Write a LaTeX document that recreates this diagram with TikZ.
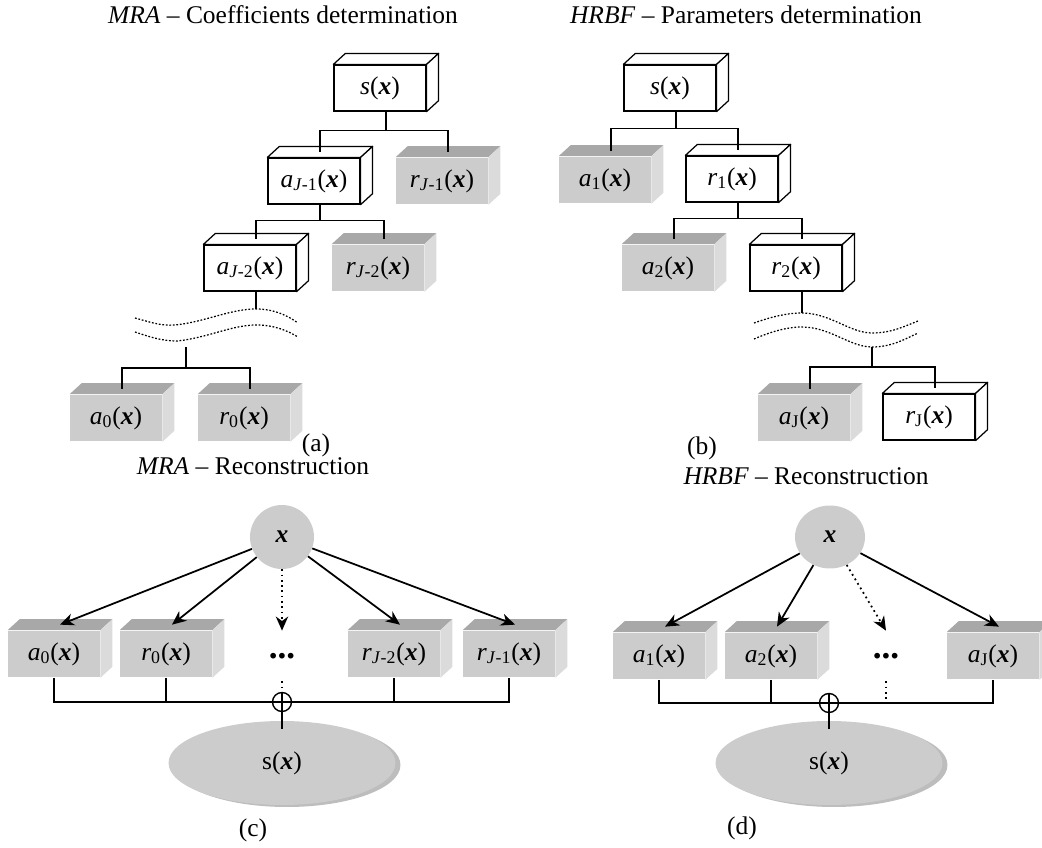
\documentclass[tikz,border=0pt]{standalone}
\usepackage{fontspec}
\setmainfont{Liberation Serif}
\usetikzlibrary{shapes.geometric,arrows.meta}
\definecolor{boxfront}{gray}{0.80}
\definecolor{boxtop}{gray}{0.66}
\definecolor{boxside}{gray}{0.86}
\definecolor{blob}{gray}{0.80}
\definecolor{blobrim}{gray}{0.74}
\newcommand{\vx}{\textbf{\textit{x}}}
\newcommand{\cube}[4]{%
  \node[#1] (#2) at (#3) {#4};
  \path[#1top] (#2.north west) -- ++(12,-11) -- ([shift={(12,-11)}]#2.north east) -- (#2.north east) -- cycle;
  \path[#1side] (#2.north east) -- ++(12,-11) -- ([shift={(12,-11)}]#2.south east) -- (#2.south east) -- cycle;
  \coordinate (#2t) at ([shift={(6,-5.5)}]#2.north);
  \coordinate (#2b) at ([shift={(6,0)}]#2.south);
}

\begin{document}
\begin{tikzpicture}[x=0.02cm,y=-0.02cm,
  font=\fontsize{14.5}{17}\selectfont,
  wbox/.style={draw,fill=white,line width=0.7pt,minimum width=1.84cm,minimum height=0.92cm,inner sep=0pt},
  wboxtop/.style={draw,fill=white,line width=0.7pt,line join=round},
  wboxside/.style={wboxtop},
  gbox/.style={fill=boxfront,minimum width=1.84cm,minimum height=0.94cm,inner sep=0pt},
  gboxtop/.style={fill=boxtop},
  gboxside/.style={fill=boxside},
  blobnode/.style={ellipse,fill=blob,inner sep=0pt},
  disc/.style={ellipse,fill=blob,minimum width=4.54cm,minimum height=1.68cm,inner sep=0pt},
  discrim/.style={ellipse,fill=blobrim,minimum width=4.54cm,minimum height=1.68cm,inner sep=0pt},
  dotsbox/.style={minimum width=1.2cm,minimum height=1cm,inner sep=0pt,font=\fontsize{20}{20}\bfseries},
  plus/.style={circle,draw,fill=white,line width=0.8pt,minimum size=0.38cm,inner sep=0pt,
    path picture={\draw[line width=0.8pt] (path picture bounding box.north) -- (path picture bounding box.south)
      (path picture bounding box.west) -- (path picture bounding box.east);}},
  link/.style={line width=1pt},
  arr/.style={line width=1pt,-{Stealth[length=8pt,width=7pt,inset=2.5pt]}},
  wave/.style={line width=0.7pt,dash pattern=on 1pt off 1pt}]
\useasboundingbox (0,0) rectangle (1042,848);

% titles and captions
\node (titA) at (283,15) {\textit{MRA} – Coefficients determination};
\node (titB) at (746,15) {\textit{HRBF} – Parameters determination};
\node (titC) at (253,466) {\textit{MRA} – Reconstruction};
\node (titD) at (806,476) {\textit{HRBF} – Reconstruction};
\node (capA) at (316,445) {(a)};
\node (capB) at (702,448) {(b)};
\node (capC) at (253,830) {(c)};
\node (capD) at (742,828) {(d)};

% (a) MRA decomposition tree
\cube{wbox}{sA}{380,88}{\textit{s}(\vx)}
\cube{wbox}{aJ1}{314,181}{\textit{a}\textsubscript{\textit{J}-1}(\vx)}
\cube{gbox}{rJ1}{442,181}{\textit{r}\textsubscript{\textit{J}-1}(\vx)}
\cube{wbox}{aJ2}{250,268}{\textit{a}\textsubscript{\textit{J}-2}(\vx)}
\cube{gbox}{rJ2}{378,268}{\textit{r}\textsubscript{\textit{J}-2}(\vx)}
\cube{gbox}{a0A}{116,418}{\textit{a}\textsubscript{0}(\vx)}
\cube{gbox}{r0A}{244,418}{\textit{r}\textsubscript{0}(\vx)}
\coordinate (wA1) at (256,309);
\coordinate (wA2) at (186,347);
\draw[wave] (135,318) .. controls (150,322) and (160,326) .. (175,325) .. controls (205,322) and (230,309) .. (wA1) .. controls (275,309) and (288,316) .. (298,323);
\draw[wave] (135,332) .. controls (150,337) and (162,341) .. (177,341) .. controls (207,338) and (232,325) .. (256,325) .. controls (275,325) and (288,331) .. (298,337);
\draw[link] (sAb) -- ++(0,19) coordinate (jA1);
\draw[link] (aJ1t) |- (jA1) -| (rJ1t);
\draw[link] (aJ1b) -- ++(0,16) coordinate (jA2);
\draw[link] (aJ2t) |- (jA2) -| (rJ2t);
\draw[link] (aJ2b) -- (wA1);
\draw[link] (wA2) -- ++(0,21) coordinate (jA3);
\draw[link] (a0At) |- (jA3) -| (r0At);

% (b) HRBF tree
\cube{wbox}{sB}{670,88}{\textit{s}(\vx)}
\cube{gbox}{a1B}{605,180}{\textit{a}\textsubscript{1}(\vx)}
\cube{wbox}{r1B}{732,179}{\textit{r}\textsubscript{1}(\vx)}
\cube{gbox}{a2B}{668,268}{\textit{a}\textsubscript{2}(\vx)}
\cube{wbox}{r2B}{796,268}{\textit{r}\textsubscript{2}(\vx)}
\cube{gbox}{aJB}{804,418}{\textit{a}\textsubscript{J}(\vx)}
\cube{wbox}{rJB}{929,417}{\textit{r}\textsubscript{J}(\vx)}
\coordinate (wB1) at (802,313);
\coordinate (wB2) at (872,347);
\draw[wave] (754,323) .. controls (768,318) and (785,313) .. (wB1) .. controls (830,313) and (850,333) .. (872,333) .. controls (892,333) and (905,326) .. (918,321);
\draw[wave] (754,339) .. controls (768,333) and (785,327) .. (802,327) .. controls (830,327) and (850,347) .. (wB2) .. controls (892,347) and (905,339) .. (918,333);
\draw[link] (sBb) -- ++(0,17) coordinate (jB1);
\draw[link] (a1Bt) |- (jB1) -| (r1Bt);
\draw[link] (r1Bb) -- ++(0,16) coordinate (jB2);
\draw[link] (a2Bt) |- (jB2) -| (r2Bt);
\draw[link] (r2Bb) -- (wB1);
\draw[link] (wB2) -- ++(0,20) coordinate (jB3);
\draw[link] (aJBt) |- (jB3) -| (rJBt);

% (c) MRA reconstruction
\node[blobnode,minimum width=1.28cm,minimum height=1.28cm] (xC) at (282,537) {\vx};
\cube{gbox}{a0C}{54,654}{\textit{a}\textsubscript{0}(\vx)}
\cube{gbox}{r0C}{166,654}{\textit{r}\textsubscript{0}(\vx)}
\node[dotsbox] (dotsC) at (282,656) {...};
\cube{gbox}{rJ2C}{394,654}{\textit{r}\textsubscript{\textit{J}-2}(\vx)}
\cube{gbox}{rJ1C}{509,654}{\textit{r}\textsubscript{\textit{J}-1}(\vx)}
\node[plus] (plusC) at (282,702) {};
\node[discrim] (sCrim) at (287,765) {};
\node[disc] (sC) at (282,763) {s(\vx)};
\draw[arr] (xC) -- (a0Ct);
\draw[arr] (xC) -- (r0Ct);
\draw[arr,dotted] (xC) -- (dotsC.north);
\draw[arr] (xC) -- (rJ2Ct);
\draw[arr] (xC) -- (rJ1Ct);
\draw[link] (a0C.south) |- (plusC.west);
\draw[link] (r0C.south) -- (r0C.south |- plusC.center);
\draw[link] (rJ2C.south) -- (rJ2C.south |- plusC.center);
\draw[link] (rJ1C.south) |- (plusC.east);
\draw[link,dotted] (dotsC.south) -- (plusC.north);
\draw[link] (plusC.south) -- ([shift={(0,8)}]sC.north);

% (d) HRBF reconstruction
\node[blobnode,minimum width=1.4cm,minimum height=1.26cm] (xD) at (830,537) {\vx};
\cube{gbox}{a1D}{659,656}{\textit{a}\textsubscript{1}(\vx)}
\cube{gbox}{a2D}{771,656}{\textit{a}\textsubscript{2}(\vx)}
\node[dotsbox] (dotsD) at (886,656) {...};
\cube{gbox}{aJD}{993,656}{\textit{a}\textsubscript{J}(\vx)}
\node[plus] (plusD) at (829,703) {};
\node[discrim] (sDrim) at (834,765) {};
\node[disc] (sD) at (829,763) {s(\vx)};
\draw[arr] (xD) -- (a1Dt);
\draw[arr] (xD) -- (a2Dt);
\draw[arr,dotted] (xD) -- (dotsD.north);
\draw[arr] (xD) -- (aJDt);
\draw[link] (a1D.south) |- (plusD.west);
\draw[link] (a2D.south) -- (a2D.south |- plusD.center);
\draw[link,dotted] (dotsD.south) -- (dotsD.south |- plusD.center);
\draw[link] (aJD.south) |- (plusD.east);
\draw[link] (plusD.south) -- ([shift={(0,8)}]sD.north);
\end{tikzpicture}
\end{document}
